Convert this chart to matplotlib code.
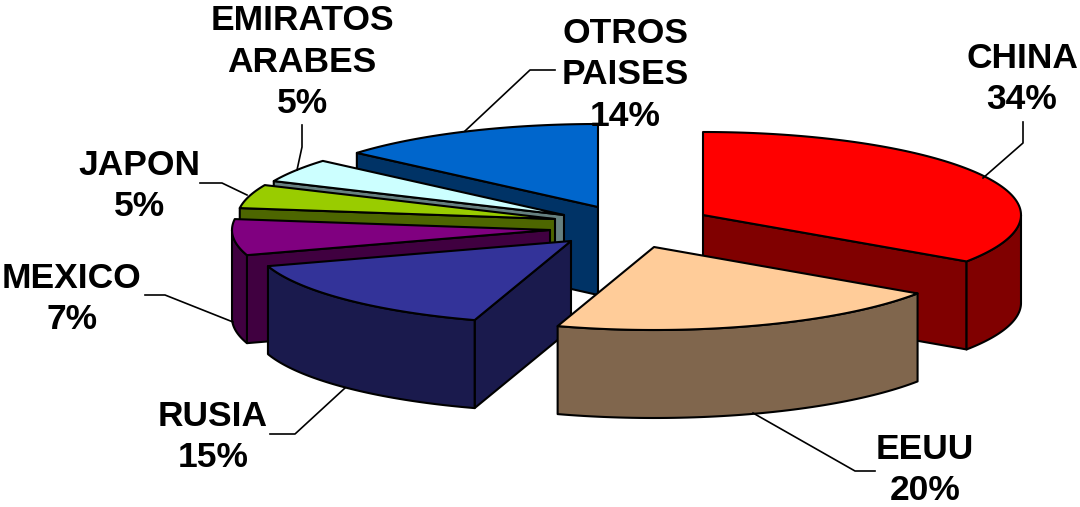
import numpy as np
import matplotlib
matplotlib.use('Agg')
import matplotlib.pyplot as plt
from matplotlib.colors import to_rgb
from matplotlib.patches import Polygon

names = ['CHINA', 'EEUU', 'RUSIA', 'MEXICO', 'JAPON', 'EMIRATOS\nARABES', 'OTROS\nPAISES']
shares = [34.45, 20.45, 15.2, 7.0, 4.6, 4.6, 13.7]
colors = ['#FF0000', '#FFCC99', '#333399', '#800080', '#99CC00', '#CCFFFF', '#0066CC']

# exploded apex of every slice, in pixels
apex = [(703, 215), (654, 247), (571, 241), (550, 230), (555, 219), (564, 215), (598, 207)]
label_pos = [(1022, 79), (925, 470), (213, 437), (72, 299), (139, 186), (302, 62), (625, 75)]
leaders = [[(983, 178), (1023, 143), (1023, 122)],
           [(753, 413), (855, 471), (875, 471)],
           [(345, 388), (295, 434), (270, 434)],
           [(233, 322), (165, 295), (145, 295)],
           [(247, 195), (222, 183), (200, 183)],
           [(297, 170), (302, 147), (302, 125)],
           [(465, 131), (530, 70), (555, 70)]]

RX, RY, DEPTH = 318, 83, 88
LW = 1.5

# back to front
draw_order = [6, 5, 4, 3, 0, 2, 1]


def rim(c, a):
    a = np.radians(a)
    return np.column_stack([c[0] + RX * np.sin(a), c[1] - RY * np.cos(a)])


def face(ax, pts, color):
    ax.add_patch(Polygon(pts, closed=True, fc=color, ec='black', lw=LW, joinstyle='round'))


fig = plt.figure(figsize=(10.8, 5.07), dpi=100)
ax = fig.add_axes([0, 0, 1, 1])
ax.set_xlim(0, 1080)
ax.set_ylim(507, 0)
ax.axis('off')

for pts in leaders:
    xs, ys = zip(*pts)
    ax.plot(xs, ys, color='black', lw=1.2)

edges = np.cumsum([0] + shares) / sum(shares) * 360

for i in draw_order:
    a0, a1 = edges[i], edges[i + 1]
    c = apex[i]
    dark = tuple(v * 0.5 for v in to_rgb(colors[i]))
    # radial side faces, only those turned to the viewer
    if 180 < a0 < 360:
        p = rim(c, [a0])[0]
        face(ax, [c, p, (p[0], p[1] + DEPTH), (c[0], c[1] + DEPTH)], dark)
    if 0 < a1 < 180:
        p = rim(c, [a1])[0]
        face(ax, [c, p, (p[0], p[1] + DEPTH), (c[0], c[1] + DEPTH)], dark)
    # outer wall, front half of the ellipse
    lo, hi = max(a0, 90), min(a1, 270)
    if lo < hi:
        arc = rim(c, np.linspace(lo, hi, 60))
        low = arc[::-1] + [0, DEPTH]
        face(ax, np.vstack([arc, low]), dark)
    # top
    arc = rim(c, np.linspace(a0, a1, 120))
    face(ax, np.vstack([[c], arc]), colors[i])

total = sum(shares)
for name, s, pos in zip(names, shares, label_pos):
    ax.text(pos[0], pos[1], f'{name}\n{round(s / total * 100)}%', ha='center', va='center',
            family='Liberation Sans', weight='bold', fontsize=25.5, linespacing=1.32,
            color='black', zorder=10)

fig.savefig('out.png', dpi=100)
